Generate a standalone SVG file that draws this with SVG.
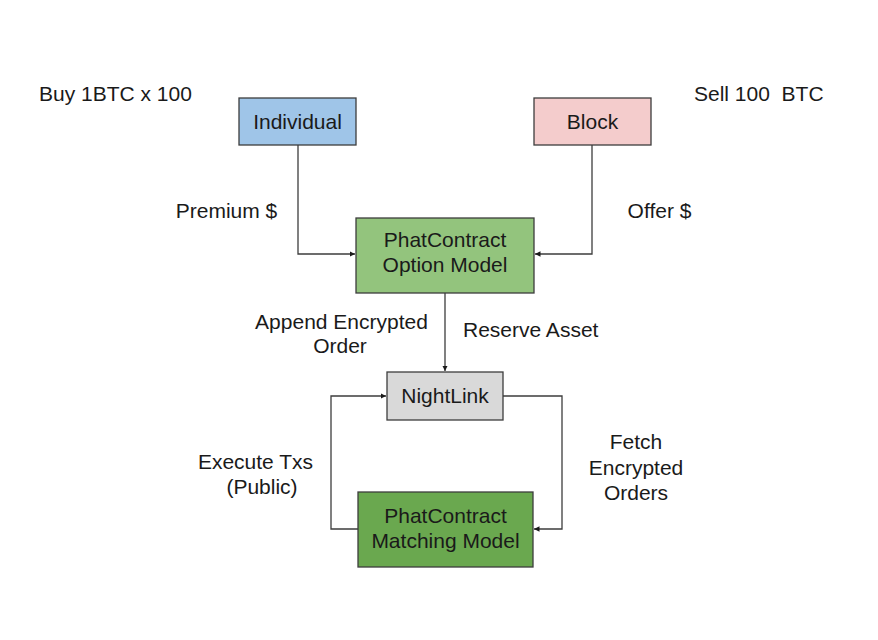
<svg xmlns="http://www.w3.org/2000/svg" width="878" height="640" viewBox="0 0 878 640">
<style>
text{font-family:"Liberation Sans",Arial,sans-serif;font-size:21px;fill:#1a1a1a;white-space:pre}
.c{text-anchor:middle}
.box{stroke:#3d3d3d;stroke-width:1.3}
.ln{fill:none;stroke:#3d3d3d;stroke-width:1.3}
</style>
<defs>
<marker id="ah" viewBox="0 0 10 10" refX="10" refY="5" markerWidth="5.5" markerHeight="5.5" markerUnits="userSpaceOnUse" orient="auto">
<path d="M0,0 L10,5 L0,10 z" fill="#1a1a1a"/>
</marker>
</defs>
<rect width="878" height="640" fill="#ffffff"/>
<g id="connectors">
<path class="ln" d="M298,145 V254 H355" marker-end="url(#ah)"/>
<path class="ln" d="M592,145 V254 H535" marker-end="url(#ah)"/>
<path class="ln" d="M445,293 V371" marker-end="url(#ah)"/>
<path class="ln" d="M358,529 H331 V396 H386" marker-end="url(#ah)"/>
<path class="ln" d="M503,396 H562 V529 H534" marker-end="url(#ah)"/>
</g>
<g id="individual">
<rect class="box" x="239" y="98" width="117" height="47" fill="#9fc5e8"/>
<text class="c" x="297.5" y="128.5">Individual</text>
</g>
<g id="block">
<rect class="box" x="534" y="98" width="117" height="47" fill="#f4cccc"/>
<text class="c" x="592.5" y="128.5">Block</text>
</g>
<g id="option-model">
<rect class="box" x="356" y="218" width="178" height="75" fill="#93c47d"/>
<text class="c" x="445" y="247">PhatContract</text>
<text class="c" x="445" y="272">Option Model</text>
</g>
<g id="nightlink">
<rect class="box" x="387" y="372" width="116" height="48" fill="#d9d9d9"/>
<text class="c" x="445" y="402.5">NightLink</text>
</g>
<g id="matching-model">
<rect class="box" x="358" y="492" width="175" height="75" fill="#6aa84f"/>
<text class="c" x="445.5" y="523">PhatContract</text>
<text class="c" x="445.5" y="548">Matching Model</text>
</g>
<g id="labels">
<text x="39" y="101">Buy 1BTC x 100</text>
<text x="694" y="101">Sell 100  BTC</text>
<text class="c" x="226.5" y="218">Premium $</text>
<text class="c" x="659.5" y="218">Offer $</text>
<text class="c" x="341.5" y="329">Append Encrypted</text>
<text class="c" x="340" y="353">Order</text>
<text x="463" y="337">Reserve Asset</text>
<text class="c" x="255.5" y="469">Execute Txs</text>
<text class="c" x="262" y="494">(Public)</text>
<text class="c" x="636" y="449">Fetch</text>
<text class="c" x="636" y="475">Encrypted</text>
<text class="c" x="636" y="500">Orders</text>
</g>
</svg>
